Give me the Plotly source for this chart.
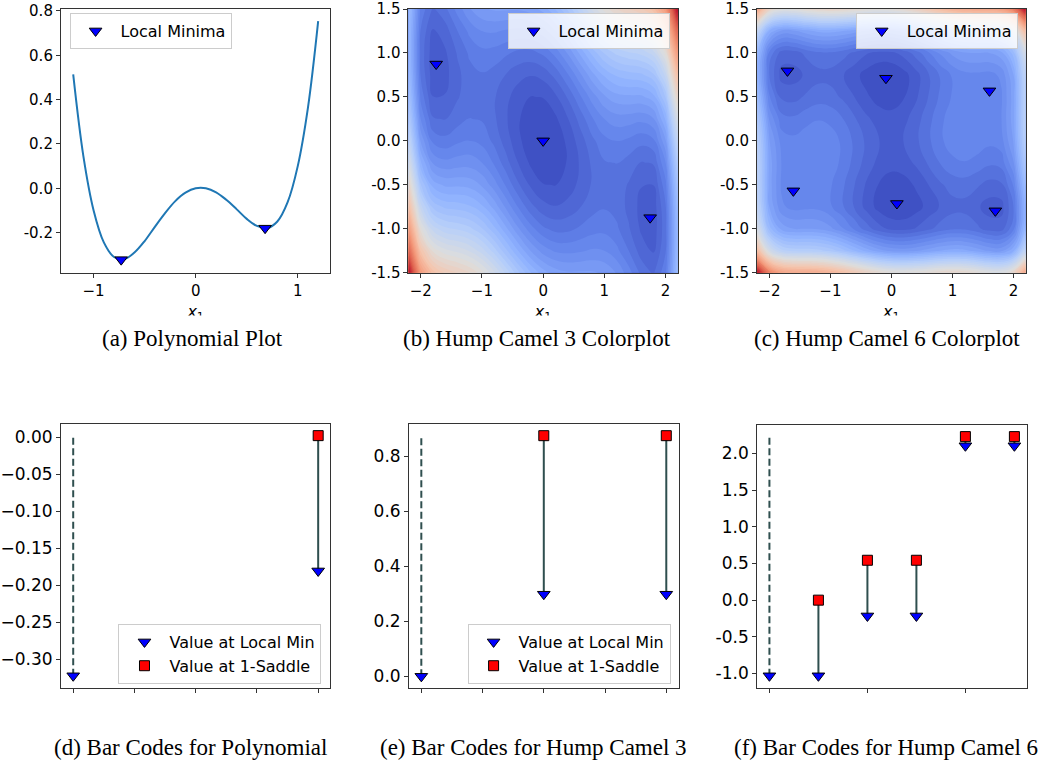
import plotly.graph_objects as go

W, H = 1047, 767

# ---------------- data ----------------
poly_x = [-1.2, -1.1, -1.0, -0.9, -0.8, -0.7, -0.6, -0.5, -0.4, -0.3, -0.2, -0.1, 0.0,
          0.1, 0.2, 0.3, 0.4, 0.5, 0.6, 0.7, 0.8, 0.9, 1.0, 1.1, 1.2]
poly_y = [0.514, 0.144, -0.100, -0.244, -0.310, -0.320, -0.290, -0.238, -0.174, -0.112, -0.058, -0.020, 0.000,
          0.000, -0.018, -0.052, -0.094, -0.138, -0.170, -0.180, -0.150, -0.064, 0.100, 0.364, 0.754]
poly_min_x = [-0.73, 0.68]
poly_min_y = [-0.322, -0.180]

grid_x = [-2.2, -2.0, -1.8, -1.6, -1.4, -1.2, -1.0, -0.8, -0.6, -0.4, -0.2, 0.0,
          0.2, 0.4, 0.6, 0.8, 1.0, 1.2, 1.4, 1.6, 1.8, 2.0, 2.2]
grid_y = [-1.5, -1.25, -1.0, -0.75, -0.5, -0.25, 0.0, 0.25, 0.5, 0.75, 1.0, 1.25, 1.5]

camel3_z = [
    [9.53, 7.12, 6.08, 5.69, 5.49, 5.25, 4.87, 4.34, 3.74, 3.14, 2.63, 2.25, 2.03, 1.94, 1.94, 1.94, 1.87, 1.65, 1.29, 0.89, 0.68, 1.12, 2.93],
    [8.29, 5.93, 4.94, 4.60, 4.45, 4.26, 3.93, 3.46, 2.90, 2.36, 1.89, 1.56, 1.39, 1.36, 1.40, 1.46, 1.43, 1.26, 0.95, 0.60, 0.44, 0.93, 2.79],
    [7.18, 4.87, 3.93, 3.64, 3.54, 3.40, 3.12, 2.69, 2.19, 1.69, 1.28, 1.00, 0.88, 0.89, 0.99, 1.09, 1.12, 1.00, 0.74, 0.44, 0.33, 0.87, 2.78],
    [6.19, 3.93, 3.04, 2.80, 2.75, 2.66, 2.43, 2.06, 1.60, 1.16, 0.79, 0.56, 0.49, 0.56, 0.70, 0.86, 0.93, 0.86, 0.65, 0.40, 0.34, 0.93, 2.89],
    [5.33, 3.12, 2.28, 2.09, 2.09, 2.05, 1.87, 1.54, 1.14, 0.74, 0.43, 0.25, 0.23, 0.34, 0.54, 0.74, 0.87, 0.85, 0.69, 0.49, 0.48, 1.12, 3.13],
    [4.59, 2.43, 1.64, 1.50, 1.55, 1.56, 1.43, 1.16, 0.80, 0.46, 0.19, 0.06, 0.09, 0.26, 0.50, 0.76, 0.93, 0.96, 0.85, 0.70, 0.74, 1.43, 3.49],
    [3.98, 1.87, 1.13, 1.03, 1.14, 1.20, 1.12, 0.89, 0.59, 0.29, 0.08, 0.00, 0.08, 0.29, 0.59, 0.89, 1.12, 1.20, 1.14, 1.03, 1.13, 1.87, 3.98],
    [3.49, 1.43, 0.74, 0.70, 0.85, 0.96, 0.93, 0.76, 0.50, 0.26, 0.09, 0.06, 0.19, 0.46, 0.80, 1.16, 1.43, 1.56, 1.55, 1.50, 1.64, 2.43, 4.59],
    [3.13, 1.12, 0.48, 0.49, 0.69, 0.85, 0.87, 0.74, 0.54, 0.34, 0.23, 0.25, 0.43, 0.74, 1.14, 1.54, 1.87, 2.05, 2.09, 2.09, 2.28, 3.12, 5.33],
    [2.89, 0.93, 0.34, 0.40, 0.65, 0.86, 0.93, 0.86, 0.70, 0.56, 0.49, 0.56, 0.79, 1.16, 1.60, 2.06, 2.43, 2.66, 2.75, 2.80, 3.04, 3.93, 6.19],
    [2.78, 0.87, 0.33, 0.44, 0.74, 1.00, 1.12, 1.09, 0.99, 0.89, 0.88, 1.00, 1.28, 1.69, 2.19, 2.69, 3.12, 3.40, 3.54, 3.64, 3.93, 4.87, 7.18],
    [2.79, 0.93, 0.44, 0.60, 0.95, 1.26, 1.43, 1.46, 1.40, 1.36, 1.39, 1.56, 1.89, 2.36, 2.90, 3.46, 3.93, 4.26, 4.45, 4.60, 4.94, 5.93, 8.29],
    [2.93, 1.12, 0.68, 0.89, 1.29, 1.65, 1.87, 1.94, 1.94, 1.94, 2.03, 2.25, 2.63, 3.14, 3.74, 4.34, 4.87, 5.25, 5.49, 5.69, 6.08, 7.12, 9.53],
]
camel3_min_x = [-1.7476, 0.0, 1.7476]
camel3_min_y = [0.8738, 0.0, -0.8738]

camel6_z = [
    [22.51, 17.98, 16.20, 15.72, 15.63, 15.45, 14.98, 14.24, 13.33, 12.44, 11.71, 11.25, 11.11, 11.24, 11.53, 11.84, 11.98, 11.85, 11.43, 10.92, 10.80, 11.98, 15.91],
    [14.23, 9.75, 8.02, 7.59, 7.55, 7.42, 7.00, 6.30, 5.45, 4.60, 3.92, 3.52, 3.42, 3.60, 3.95, 4.30, 4.50, 4.42, 4.05, 3.59, 3.52, 4.75, 8.73],
    [10.16, 5.73, 4.05, 3.67, 3.68, 3.60, 3.23, 2.59, 1.78, 0.99, 0.36, 0.00, -0.04, 0.19, 0.58, 0.99, 1.23, 1.20, 0.88, 0.47, 0.45, 1.73, 5.76],
    [8.63, 4.25, 2.62, 2.29, 2.35, 2.32, 2.00, 1.40, 0.65, -0.10, -0.68, -0.98, -0.98, -0.70, -0.25, 0.20, 0.50, 0.52, 0.25, -0.11, -0.08, 1.25, 5.33],
    [8.31, 3.98, 2.40, 2.12, 2.23, 2.25, 1.98, 1.44, 0.73, 0.04, -0.49, -0.75, -0.69, -0.36, 0.13, 0.64, 0.98, 1.05, 0.83, 0.52, 0.60, 1.98, 6.11],
    [8.28, 4.00, 2.47, 2.24, 2.40, 2.47, 2.25, 1.75, 1.10, 0.45, -0.03, -0.23, -0.13, 0.25, 0.80, 1.35, 1.75, 1.87, 1.70, 1.44, 1.57, 3.00, 7.18],
    [7.96, 3.73, 2.25, 2.07, 2.28, 2.40, 2.23, 1.79, 1.18, 0.59, 0.16, 0.00, 0.16, 0.59, 1.18, 1.79, 2.23, 2.40, 2.28, 2.07, 2.25, 3.73, 7.96],
    [7.18, 3.00, 1.57, 1.44, 1.70, 1.87, 1.75, 1.35, 0.80, 0.25, -0.13, -0.23, -0.03, 0.45, 1.10, 1.75, 2.25, 2.47, 2.40, 2.24, 2.47, 4.00, 8.28],
    [6.11, 1.98, 0.60, 0.52, 0.83, 1.05, 0.98, 0.64, 0.13, -0.36, -0.69, -0.75, -0.49, 0.04, 0.73, 1.44, 1.98, 2.25, 2.23, 2.12, 2.40, 3.98, 8.31],
    [5.33, 1.25, -0.08, -0.11, 0.25, 0.52, 0.50, 0.20, -0.25, -0.70, -0.98, -0.98, -0.68, -0.10, 0.65, 1.40, 2.00, 2.32, 2.35, 2.29, 2.62, 4.25, 8.63],
    [5.76, 1.73, 0.45, 0.47, 0.88, 1.20, 1.23, 0.99, 0.58, 0.19, -0.04, 0.00, 0.36, 0.99, 1.78, 2.59, 3.23, 3.60, 3.68, 3.67, 4.05, 5.73, 10.16],
    [8.73, 4.75, 3.52, 3.59, 4.05, 4.42, 4.50, 4.30, 3.95, 3.60, 3.42, 3.52, 3.92, 4.60, 5.45, 6.30, 7.00, 7.42, 7.55, 7.59, 8.02, 9.75, 14.23],
    [15.91, 11.98, 10.80, 10.92, 11.43, 11.85, 11.98, 11.84, 11.53, 11.24, 11.11, 11.25, 11.71, 12.44, 13.33, 14.24, 14.98, 15.45, 15.63, 15.72, 16.20, 17.98, 22.51],
]
camel6_min_x = [-1.7036, -0.0898, 1.6071, -1.6071, 0.0898, 1.7036]
camel6_min_y = [0.7961, 0.7126, 0.5687, -0.5687, -0.7126, -0.7961]

poly_bar_min = [-0.3223, -0.1805]
poly_bar_saddle = [0.0025]
camel3_bar_min = [0.0, 0.2986, 0.2986]
camel3_bar_saddle = [0.8750, 0.8750]
camel6_bar_min = [-1.0316, -1.0316, -0.2155, -0.2155, 2.1043, 2.1043]
camel6_bar_saddle = [0.0, 0.5437, 0.5437, 2.2294, 2.2294]

captions = ["(a) Polynomial Plot", "(b) Hump Camel 3 Colorplot", "(c) Hump Camel 6 Colorplot",
            "(d) Bar Codes for Polynomial", "(e) Bar Codes for Hump Camel 3", "(f) Bar Codes for Hump Camel 6"]

# ---------------- style ----------------
coolwarm = [[0.0, '#3b4cc0'], [0.125, '#6282ea'], [0.25, '#8db0fe'], [0.375, '#b8d0f9'],
            [0.5, '#dddddd'], [0.625, '#f5c4ac'], [0.75, '#f49a7b'], [0.875, '#de604d'], [1.0, '#b40426']]
SPINE = '#333333'
BAR = '#2f4f4f'
TICKFONT_TOP = dict(family='DejaVu Sans', size=15, color='black')
TICKFONT_BOT = dict(family='DejaVu Sans', size=17, color='black')
LEGFONT = dict(family='DejaVu Sans', size=16, color='black')

# positions are measured in reference-image pixels; the photographed page shows the figure
# slightly inset and scaled, so they are mapped back onto page pixels here.
SX, SY, INSET = 0.99, 0.975, 10.0


def PX(r):
    return (r - INSET) / SX


def PY(r):
    return (r - INSET) / SY


def X(r):
    return PX(r) / W


def Y(r):
    return 1 - PY(r) / H


# panel boxes in reference pixels: (left, right, top, bottom)
boxes = [(52.3, 324.0, 10.0, 273.3), (402.7, 674.3, 10.0, 273.3), (754.3, 1025.0, 10.0, 273.3),
         (52.3, 324.0, 424.0, 687.7), (403.3, 675.0, 424.0, 688.3), (754.3, 1026.0, 425.0, 687.7)]


def xdom(b):
    return [X(b[0]), X(b[1])]


def ydom(b):
    return [max(Y(b[3]), 0.0), min(Y(b[2]), 1.0)]


def axis(**kw):
    d = dict(showline=True, mirror=True, linecolor=SPINE, linewidth=1, ticks='outside', ticklen=4,
             tickwidth=1, tickcolor=SPINE, showgrid=False, zeroline=False, ticklabeloverflow='allow')
    d.update(kw)
    return d


fig = go.Figure()

tri = dict(symbol='triangle-down', size=11, color='#0000ff', line=dict(color='black', width=1))
sq = dict(symbol='square', size=10, color='#ff0000', line=dict(color='black', width=1))

# (a) polynomial
fig.add_trace(go.Scatter(x=poly_x, y=poly_y, mode='lines', line=dict(color='#1f77b4', width=2, shape='spline', smoothing=1),
                         xaxis='x', yaxis='y', showlegend=False, hoverinfo='skip'))
fig.add_trace(go.Scatter(x=poly_min_x, y=poly_min_y, mode='markers', marker=tri, name='Local Minima',
                         xaxis='x', yaxis='y', legend='legend', showlegend=True))

# (b),(c) colorplots
for k, (z, mx, my, zmin, zmax) in enumerate([(camel3_z, camel3_min_x, camel3_min_y, 0.0, 9.53),
                                              (camel6_z, camel6_min_x, camel6_min_y, -1.0316, 22.51)]):
    ax = str(k + 2)
    nlev = 40
    fig.add_trace(go.Contour(x=grid_x, y=grid_y, z=z, colorscale=coolwarm, showscale=False,
                             zmin=zmin, zmax=zmax, autocontour=False,
                             contours=dict(start=zmin, end=zmax, size=(zmax - zmin) / nlev, coloring='fill'),
                             line=dict(width=0, smoothing=1.3), xaxis='x' + ax, yaxis='y' + ax,
                             hoverinfo='skip', showlegend=False))
    fig.add_trace(go.Scatter(x=mx, y=my, mode='markers', marker=tri, name='Local Minima',
                             xaxis='x' + ax, yaxis='y' + ax, legend='legend' + ax, showlegend=True))


# (d),(e),(f) bar codes
def barcode(ax, mins, saddles, legend_name, show):
    pos = list(range(len(mins)))
    top = max(saddles)
    fig.add_trace(go.Scatter(x=[pos[0], pos[0]], y=[mins[0], top], mode='lines',
                             line=dict(color=BAR, width=2, dash='7px,3.5px'),
                             xaxis='x' + ax, yaxis='y' + ax, showlegend=False, hoverinfo='skip'))
    lx, ly = [], []
    for i in range(1, len(mins)):
        lx += [pos[i], pos[i], None]
        ly += [mins[i], saddles[i - 1], None]
    fig.add_trace(go.Scatter(x=lx, y=ly, mode='lines', line=dict(color=BAR, width=2),
                             xaxis='x' + ax, yaxis='y' + ax, showlegend=False, hoverinfo='skip'))
    fig.add_trace(go.Scatter(x=pos, y=mins, mode='markers', marker=tri, name='Value at Local Min',
                             xaxis='x' + ax, yaxis='y' + ax, showlegend=show, legend=legend_name))
    fig.add_trace(go.Scatter(x=pos[1:], y=saddles, mode='markers', marker=sq, name='Value at 1-Saddle',
                             xaxis='x' + ax, yaxis='y' + ax, showlegend=show, legend=legend_name))


barcode('4', poly_bar_min, poly_bar_saddle, 'legend4', True)
barcode('5', camel3_bar_min, camel3_bar_saddle, 'legend5', True)
barcode('6', camel6_bar_min, camel6_bar_saddle, 'legend4', False)

# x1 axis labels of the top row, cut off at the bottom like in the reference (helper axis clips them)
label_x = [PX((b[0] + b[1]) / 2) for b in boxes[:3]]
clip_top, clip_bot = PY(296), PY(316)
fig.add_trace(go.Scatter(x=label_x, y=[PY(310) + 3.4] * 3, mode='text', text=['<i>x</i><sub>1</sub>'] * 3,
                         textfont=dict(family='DejaVu Sans', size=16, color='black'), textposition='middle center',
                         cliponaxis=True, xaxis='x7', yaxis='y7', showlegend=False, hoverinfo='skip'))

layout = dict(width=W, height=H, margin=dict(l=0, r=0, t=0, b=0), paper_bgcolor='white', plot_bgcolor='white',
              font=dict(family='DejaVu Sans', color='black'), showlegend=True, hovermode=False)

minus = '\u2212'
# (a)  (top of the box sits at the page edge, so the range top is trimmed accordingly)
layout['xaxis'] = axis(domain=xdom(boxes[0]), anchor='y', range=[-1.32, 1.32], tickvals=[-1, 0, 1],
                       ticktext=[minus + '1', '0', '1'], tickfont=TICKFONT_TOP)
layout['yaxis'] = axis(domain=ydom(boxes[0]), anchor='x', range=[-0.381, 0.809],
                       tickvals=[-0.2, 0.0, 0.2, 0.4, 0.6, 0.8], ticktext=['-0.2', '0.0', '0.2', '0.4', '0.6', '0.8'],
                       tickfont=TICKFONT_TOP)
# (b),(c)
for k in (2, 3):
    layout['xaxis%d' % k] = axis(domain=xdom(boxes[k - 1]), anchor='y%d' % k, range=[-2.2, 2.2],
                                 tickvals=[-2, -1, 0, 1, 2], ticktext=[minus + '2', minus + '1', '0', '1', '2'],
                                 tickfont=TICKFONT_TOP)
    layout['yaxis%d' % k] = axis(domain=ydom(boxes[k - 1]), anchor='x%d' % k, range=[-1.5, 1.5],
                                 tickvals=[-1.5, -1.0, -0.5, 0.0, 0.5, 1.0, 1.5],
                                 ticktext=['-1.5', '-1.0', '-0.5', '0.0', '0.5', '1.0', '1.5'], tickfont=TICKFONT_TOP)
# (d)
layout['xaxis4'] = axis(domain=xdom(boxes[3]), anchor='y4', range=[-0.05, 1.05],
                        tickvals=[0, 0.25, 0.5, 0.75, 1.0], showticklabels=False)
layout['yaxis4'] = axis(domain=ydom(boxes[3]), anchor='x4', range=[-0.3385, 0.0187],
                        tickvals=[0.0, -0.05, -0.10, -0.15, -0.20, -0.25, -0.30],
                        ticktext=['0.00', minus + '0.05', minus + '0.10', minus + '0.15', minus + '0.20',
                                  minus + '0.25', minus + '0.30'], tickfont=TICKFONT_BOT)
# (e)
layout['xaxis5'] = axis(domain=xdom(boxes[4]), anchor='y5', range=[-0.1, 2.1],
                        tickvals=[0, 0.5, 1.0, 1.5, 2.0], showticklabels=False)
layout['yaxis5'] = axis(domain=ydom(boxes[4]), anchor='x5', range=[-0.04375, 0.91875],
                        tickvals=[0.0, 0.2, 0.4, 0.6, 0.8], ticktext=['0.0', '0.2', '0.4', '0.6', '0.8'],
                        tickfont=TICKFONT_BOT)
# (f)
layout['xaxis6'] = axis(domain=xdom(boxes[5]), anchor='y6', range=[-0.25, 5.25],
                        tickvals=[0, 2, 4], showticklabels=False)
layout['yaxis6'] = axis(domain=ydom(boxes[5]), anchor='x6', range=[-1.1946, 2.3924],
                        tickvals=[-1.0, -0.5, 0.0, 0.5, 1.0, 1.5, 2.0],
                        ticktext=['-1.0', '-0.5', '0.0', '0.5', '1.0', '1.5', '2.0'], tickfont=TICKFONT_BOT)
# helper axis for the clipped x1 labels (page pixel coordinates)
layout['xaxis7'] = dict(domain=[0, 1], anchor='y7', range=[0, W], visible=False, fixedrange=True)
layout['yaxis7'] = dict(domain=[1 - clip_bot / H, 1 - clip_top / H], anchor='x7', range=[clip_bot, clip_top],
                        visible=False, fixedrange=True)

leg = dict(bgcolor='rgba(255,255,255,0.8)', bordercolor='#cccccc', borderwidth=1, font=LEGFONT, itemwidth=40,
           tracegroupgap=0, visible=True, yanchor='middle')
layout['legend'] = dict(leg, x=X(61), y=Y(32), xanchor='left')
layout['legend2'] = dict(leg, x=X(666), y=Y(32), xanchor='right')
layout['legend3'] = dict(leg, x=X(1017), y=Y(32), xanchor='right')
layout['legend4'] = dict(leg, x=X(315), y=Y(654), xanchor='right')
layout['legend5'] = dict(leg, x=X(667), y=Y(654), xanchor='right')

# caption centres: x in reference pixels, y as page pixels of the text middle
cap_x = [185, 532.5, 885.5, 183, 529, 884]
cap_py = [337.3, 337.3, 337.3, 756.0, 756.0, 756.0]
layout['annotations'] = [dict(text=t, x=X(cx), y=1 - cy / H, xref='paper', yref='paper', showarrow=False,
                              xanchor='center', yanchor='middle',
                              font=dict(family='Liberation Serif', size=23, color='black'))
                         for t, cx, cy in zip(captions, cap_x, cap_py)]

fig.update_layout(**layout)
fig.write_html("out.html", config={'displayModeBar': False},
               post_script="document.body.style.margin='0';document.body.style.overflow='hidden';")
